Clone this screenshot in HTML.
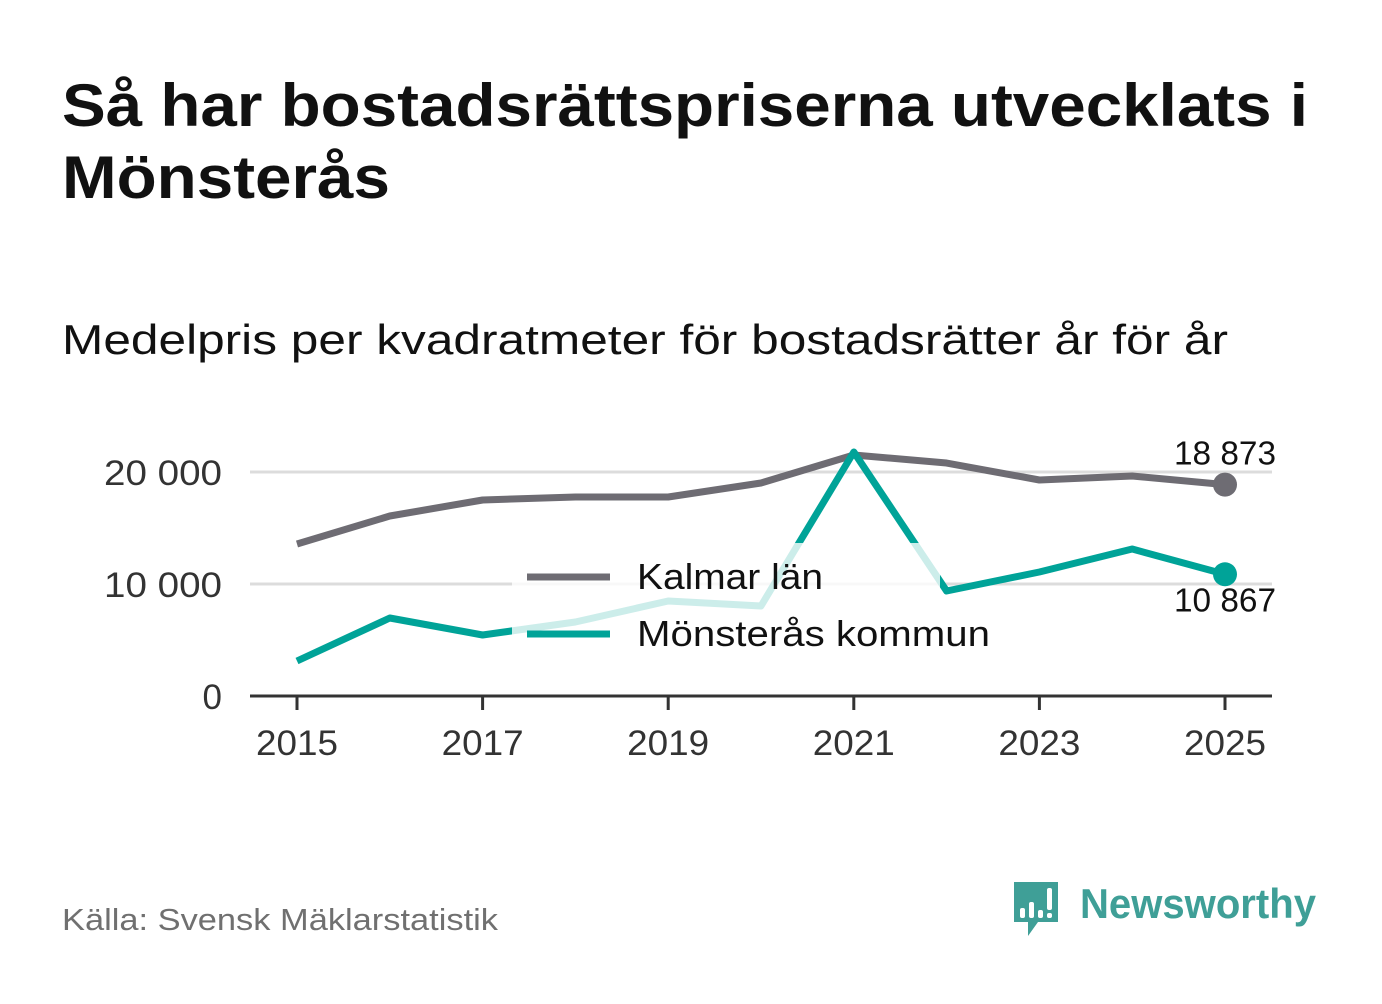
<!DOCTYPE html>
<html><head><meta charset="utf-8"><style>
body{margin:0;background:#fff;width:1382px;height:999px;overflow:hidden;font-family:"Liberation Sans",sans-serif}
</style></head><body>
<svg width="1382" height="999" viewBox="0 0 1382 999" xmlns="http://www.w3.org/2000/svg">
<text x="62" y="126" font-size="60" font-weight="bold" fill="#111" textLength="1246" lengthAdjust="spacingAndGlyphs">Så har bostadsrättspriserna utvecklats i</text>
<text x="62" y="198" font-size="60" font-weight="bold" fill="#111" textLength="328" lengthAdjust="spacingAndGlyphs">Mönsterås</text>
<text x="62" y="354" font-size="42" fill="#111" textLength="1166" lengthAdjust="spacingAndGlyphs">Medelpris per kvadratmeter för bostadsrätter år för år</text>
<g id="grid"></g>
<g id="lines"></g>
<g id="legend"></g>
<g id="axis"></g>
<text x="62" y="930" font-size="31" fill="#707070" textLength="436" lengthAdjust="spacingAndGlyphs">Källa: Svensk Mäklarstatistik</text>
<g>
<path d="M1014 882 h44 v40 h-20 l-10 14 v-14 h-14 z" fill="#3f9f97"/>
<rect x="1020" y="908" width="5" height="10" rx="2" fill="#fff"/>
<rect x="1029" y="902" width="5" height="16" rx="2" fill="#fff"/>
<rect x="1038" y="910" width="5" height="8" rx="2" fill="#fff"/>
<rect x="1047" y="888" width="5" height="22" rx="2" fill="#fff"/>
<rect x="1047" y="913" width="5" height="5" rx="2" fill="#fff"/>
<text x="1080" y="918" font-size="42" font-weight="bold" fill="#3f9f97" textLength="236" lengthAdjust="spacingAndGlyphs">Newsworthy</text>
</g>
</svg>
<script>
const years=[2015,2016,2017,2018,2019,2020,2021,2022,2023,2024,2025];
const kalmar=[13571,16071,17500,17768,17768,19018,21518,20800,19286,19643,18873];
const monsteras=[3125,6964,5446,6607,8482,8036,21786,9375,11071,13125,10867];
const yTicks=[0,10000,20000];
const yTickLabels=["0","10 000","20 000"];
const xTicks=[2015,2017,2019,2021,2023,2025];
const NS="http://www.w3.org/2000/svg";
const x=v=>297+(v-2015)*92.8;
const y=v=>696-v*0.0112;
function el(t,a,p){const e=document.createElementNS(NS,t);for(const k in a)e.setAttribute(k,a[k]);p.appendChild(e);return e;}
const grid=document.getElementById('grid'),lines=document.getElementById('lines'),leg=document.getElementById('legend'),axis=document.getElementById('axis');
yTicks.forEach((t,i)=>{
 if(t>0){const g=el('line',{x1:250,x2:1272,y1:y(t),y2:y(t),stroke:'#dcdcdc','stroke-width':3},grid);
 
 }
 const l=el('text',{x:222,y:y(t)+13,'font-size':35,fill:'#333','text-anchor':'end'},grid);l.textContent=yTickLabels[i];
 if(t>0){l.setAttribute('textLength',t>=20000?118:118);l.setAttribute('lengthAdjust','spacingAndGlyphs');}
 
 
});
function series(vals,color,name){
 const p=el('polyline',{points:vals.map((v,i)=>x(years[i])+','+y(v)).join(' '),fill:'none',stroke:color,'stroke-width':7,'stroke-linejoin':'round'},lines);
 
 
 const n=vals.length-1;
 const c=el('circle',{cx:x(years[n]),cy:y(vals[n]),r:12,fill:color},lines);
 
 
}
series(kalmar,'#6e6c73','kalmar');
series(monsteras,'#00a398','monsteras');
const fmt=v=>String(v).replace(/\B(?=(\d{3})+$)/g,' ');
const lk=el('text',{x:1225,y:y(kalmar[10])-20,'font-size':33,fill:'#111','text-anchor':'middle',textLength:102,lengthAdjust:'spacingAndGlyphs'},lines);lk.textContent=fmt(kalmar[10]);


const lm=el('text',{x:1225,y:y(monsteras[10])+37,'font-size':33,fill:'#111','text-anchor':'middle',textLength:102,lengthAdjust:'spacingAndGlyphs'},lines);lm.textContent=fmt(monsteras[10]);


el('rect',{x:512,y:543,width:428,height:62,fill:'#fff','fill-opacity':0.8},leg);
el('rect',{x:512,y:605,width:490,height:55,fill:'#fff','fill-opacity':0.8},leg);
[['Kalmar län','#6e6c73',577,186],['Mönsterås kommun','#00a398',634,353]].forEach(([t,c,yy,w])=>{
 const g=el('g',{},leg);
 
 
 el('line',{x1:527,x2:610,y1:yy,y2:yy,stroke:c,'stroke-width':7},g);
 const tx=el('text',{x:637,y:yy+12,'font-size':36,fill:'#111',textLength:w,lengthAdjust:'spacingAndGlyphs'},g);tx.textContent=t;
});
const ax=el('line',{x1:250,x2:1272,y1:696,y2:696,stroke:'#333','stroke-width':3},axis);


xTicks.forEach(t=>{
 el('line',{x1:x(t),x2:x(t),y1:696,y2:710,stroke:'#333','stroke-width':3},axis);
 const l=el('text',{x:x(t),y:755,'font-size':35,fill:'#333','text-anchor':'middle',textLength:82,lengthAdjust:'spacingAndGlyphs'},axis);l.textContent=t;
 
 
});
</script>
</body></html>
